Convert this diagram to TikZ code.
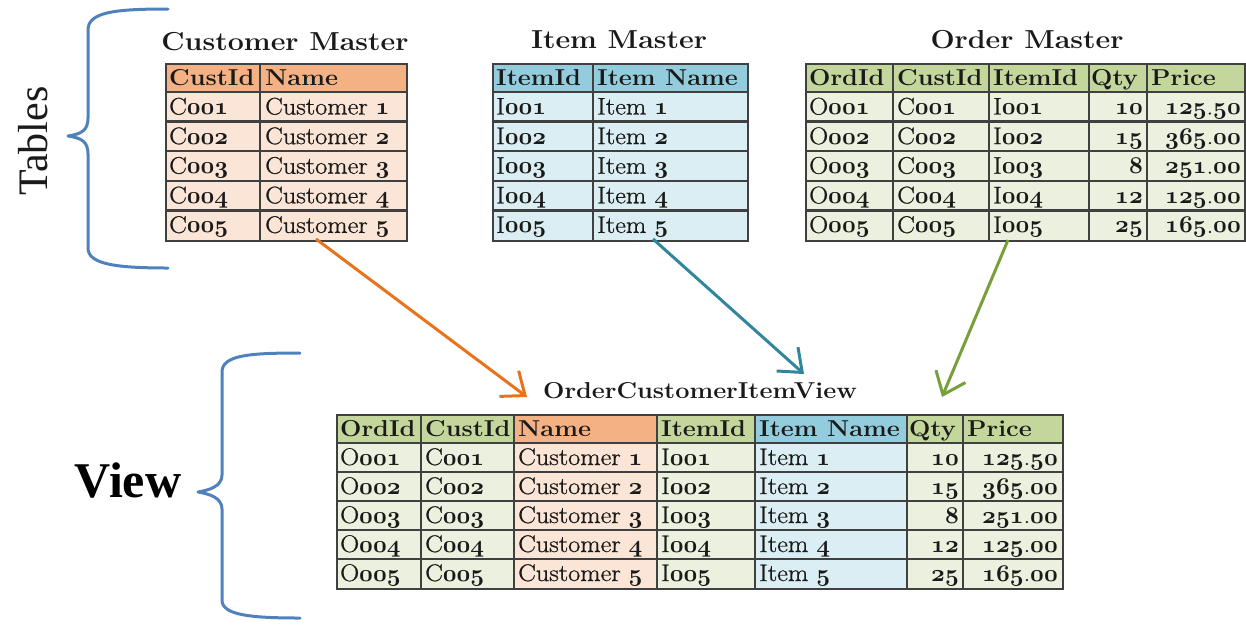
\RequirePackage{fix-cm}
\documentclass[tikz,border=0pt]{standalone}
\usepackage{fontspec}
\setmainfont{Latin Modern Roman}[FakeStretch=1.1]
\newfontfamily\bodyf{Latin Modern Roman}[FakeStretch=1.1, FakeBold=0.9]
\newfontfamily\timesf{Liberation Serif}
\usetikzlibrary{arrows.meta}
\definecolor{orH}{HTML}{F4B183}
\definecolor{orB}{HTML}{FBE5D6}
\definecolor{blH}{HTML}{93CDDD}
\definecolor{blB}{HTML}{DAEEF3}
\definecolor{grH}{HTML}{C3D69B}
\definecolor{grB}{HTML}{EBF1DE}
\definecolor{gridc}{HTML}{404040}
\definecolor{txt}{HTML}{1A1A1A}
\definecolor{arrO}{HTML}{E8731C}
\definecolor{arrT}{HTML}{31859C}
\definecolor{arrG}{HTML}{77A03C}
\definecolor{brc}{HTML}{4F81BD}
\newcommand\osn[1]{{\usefont{OML}{cmm}{b}{it}#1}}
\tikzset{
  gridline/.style={draw=gridc, line width=2.4pt},
  hd/.style={anchor=base west, inner sep=0pt, text=txt, font=\fontsize{23}{25}\selectfont\bfseries},
  bd/.style={anchor=base west, inner sep=0pt, text=txt, font=\bodyf\fontsize{24}{26}\selectfont},
  bdr/.style={anchor=base east, inner sep=0pt, text=txt, font=\bodyf\fontsize{24}{26}\selectfont},
  ttl/.style={anchor=base, inner sep=0pt, text=txt, font=\fontsize{26}{28}\selectfont\bfseries},
  brace/.style={draw=brc, line width=3pt, line cap=round, line join=round},
  flow/.style={line width=3pt, -{Straight Barb[length=20pt,width=32pt]}},
}
\begin{document}
\begin{tikzpicture}[x=1pt,y=-1pt]
\useasboundingbox (0,0) rectangle (1246,625);

% ---------------- Customer Master ----------------
\node[ttl] (t-cm) at (285,50) {Customer Master};
\fill[orH] (165,63) rectangle (406,92);
\fill[orB] (165,92) rectangle (406,240);
\foreach \y in {92,121.6,151.2,180.8,210.4} \draw[gridline] (165,\y) -- (406,\y);
\draw[gridline] (260,63) -- (260,240);
\node[gridline, rectangle, minimum width=241pt, minimum height=177pt, anchor=north west, inner sep=0pt] (cm) at (165,63) {};
\node[hd] (cm-h1) at (169,85) {CustId};
\node[hd] (cm-h2) at (265,85) {Name};
\foreach \i in {1,...,5}{
  \pgfmathsetmacro\yb{92+(\i-1)*29.6+22.5}
  \node[bd] (cm-\i-1) at (169,\yb) {C\osn{00\i}};
  \node[bd] (cm-\i-2) at (265,\yb) {Customer \osn{\i}};
}

% ---------------- Item Master ----------------
\node[ttl] (t-im) at (619,48) {Item Master};
\fill[blH] (492,63) rectangle (747,92);
\fill[blB] (492,92) rectangle (747,240);
\foreach \y in {92,121.6,151.2,180.8,210.4} \draw[gridline] (492,\y) -- (747,\y);
\draw[gridline] (593,63) -- (593,240);
\node[gridline, rectangle, minimum width=255pt, minimum height=177pt, anchor=north west, inner sep=0pt] (im) at (492,63) {};
\node[hd] (im-h1) at (496,85) {ItemId};
\node[hd] (im-h2) at (597,85) {Item Name};
\foreach \i in {1,...,5}{
  \pgfmathsetmacro\yb{92+(\i-1)*29.6+22.5}
  \node[bd] (im-\i-1) at (496,\yb) {I\osn{00\i}};
  \node[bd] (im-\i-2) at (597,\yb) {Item \osn{\i}};
}

% ---------------- Order Master ----------------
\node[ttl] (t-om) at (1027,48) {Order Master};
\fill[grH] (805,63) rectangle (1244,92);
\fill[grB] (805,92) rectangle (1244,240);
\foreach \y in {92,121.6,151.2,180.8,210.4} \draw[gridline] (805,\y) -- (1244,\y);
\foreach \x in {893,989,1089,1147} \draw[gridline] (\x,63) -- (\x,240);
\node[gridline, rectangle, minimum width=439pt, minimum height=177pt, anchor=north west, inner sep=0pt] (om) at (805,63) {};
\node[hd] (om-h1) at (809,85) {OrdId};
\node[hd] (om-h2) at (897,85) {CustId};
\node[hd] (om-h3) at (993,85) {ItemId};
\node[hd] (om-h4) at (1091,85) {Qty};
\node[hd] (om-h5) at (1151,85) {Price};
\foreach \q/\pa/\pb [count=\i] in {10/125/50,15/365/00,8/251/00,12/125/00,25/165/00}{
  \pgfmathsetmacro\yb{92+(\i-1)*29.6+22.5}
  \node[bd] (om-\i-1) at (809,\yb) {O\osn{00\i}};
  \node[bd] (om-\i-2) at (897,\yb) {C\osn{00\i}};
  \node[bd] (om-\i-3) at (993,\yb) {I\osn{00\i}};
  \node[bdr] (om-\i-4) at (1143,\yb) {\osn{\q}};
  \node[bdr] (om-\i-5) at (1241,\yb) {\osn{\pa}.\osn{\pb}};
}

% ---------------- View ----------------
\node[ttl, font=\fontsize{23}{25}\selectfont\bfseries] (t-v) at (700,398) {OrderCustomerItemView};
\fill[grH] (336,414) rectangle (514,443);
\fill[orH] (514,414) rectangle (657,443);
\fill[grH] (657,414) rectangle (755,443);
\fill[blH] (755,414) rectangle (907,443);
\fill[grH] (907,414) rectangle (1062,443);
\fill[grB] (336,443) rectangle (514,588);
\fill[orB] (514,443) rectangle (657,588);
\fill[grB] (657,443) rectangle (755,588);
\fill[blB] (755,443) rectangle (907,588);
\fill[grB] (907,443) rectangle (1062,588);
\foreach \y in {443,472,501,530,559} \draw[gridline] (336,\y) -- (1062,\y);
\foreach \x in {421,514,657,755,907,963} \draw[gridline] (\x,414) -- (\x,588);
\node[gridline, rectangle, minimum width=726pt, minimum height=174pt, anchor=north west, inner sep=0pt] (vw) at (336,414) {};
\node[hd] (vw-h1) at (340,436) {OrdId};
\node[hd] (vw-h2) at (425,436) {CustId};
\node[hd] (vw-h3) at (518,436) {Name};
\node[hd] (vw-h4) at (661,436) {ItemId};
\node[hd] (vw-h5) at (759,436) {Item Name};
\node[hd] (vw-h6) at (909,436) {Qty};
\node[hd] (vw-h7) at (967,436) {Price};
\foreach \q/\pa/\pb [count=\i] in {10/125/50,15/365/00,8/251/00,12/125/00,25/165/00}{
  \pgfmathsetmacro\yb{443+(\i-1)*29+22}
  \node[bd] (vw-\i-1) at (340,\yb) {O\osn{00\i}};
  \node[bd] (vw-\i-2) at (425,\yb) {C\osn{00\i}};
  \node[bd] (vw-\i-3) at (518,\yb) {Customer \osn{\i}};
  \node[bd] (vw-\i-4) at (661,\yb) {I\osn{00\i}};
  \node[bd] (vw-\i-5) at (759,\yb) {Item \osn{\i}};
  \node[bdr] (vw-\i-6) at (959,\yb) {\osn{\q}};
  \node[bdr] (vw-\i-7) at (1058,\yb) {\osn{\pa}.\osn{\pb}};
}

% ---------------- arrows ----------------
\coordinate (aO1) at (316,239);
\coordinate (aO2) at (527,397);
\coordinate (aT1) at (653,239);
\coordinate (aT2) at (804,374);
\coordinate (aG1) at (1008,240);
\coordinate (aG2) at (942,397);
\draw[flow, arrO] (aO1) -- (aO2);
\draw[flow, arrT] (aT1) -- (aT2);
\draw[flow, arrG] (aG1) -- (aG2);

% ---------------- braces ----------------
\draw[brace] (168,9) .. controls (115,9) and (88,12) .. (88,30) -- (88,118)
  .. controls (88,130) and (82,134) .. (68,136)
  .. controls (82,138) and (88,142) .. (88,154) -- (88,248)
  .. controls (88,264) and (115,268) .. (168,268);
\draw[brace] (300,353) .. controls (250,353) and (222,355) .. (222,372) -- (222,475)
  .. controls (222,486) and (210,490) .. (198,492)
  .. controls (210,494) and (222,498) .. (222,509) -- (222,600)
  .. controls (222,615) and (250,618) .. (300,618);
\node[anchor=base, rotate=90, inner sep=0pt, text=txt, font=\timesf\fontsize{42}{44}\selectfont] (lblT) at (47,141) {Tables};
\node[anchor=base, inner sep=0pt, text=black, font=\timesf\fontsize{50}{52}\selectfont\bfseries] (lblV) at (128,497) {View};
\end{tikzpicture}
\end{document}
